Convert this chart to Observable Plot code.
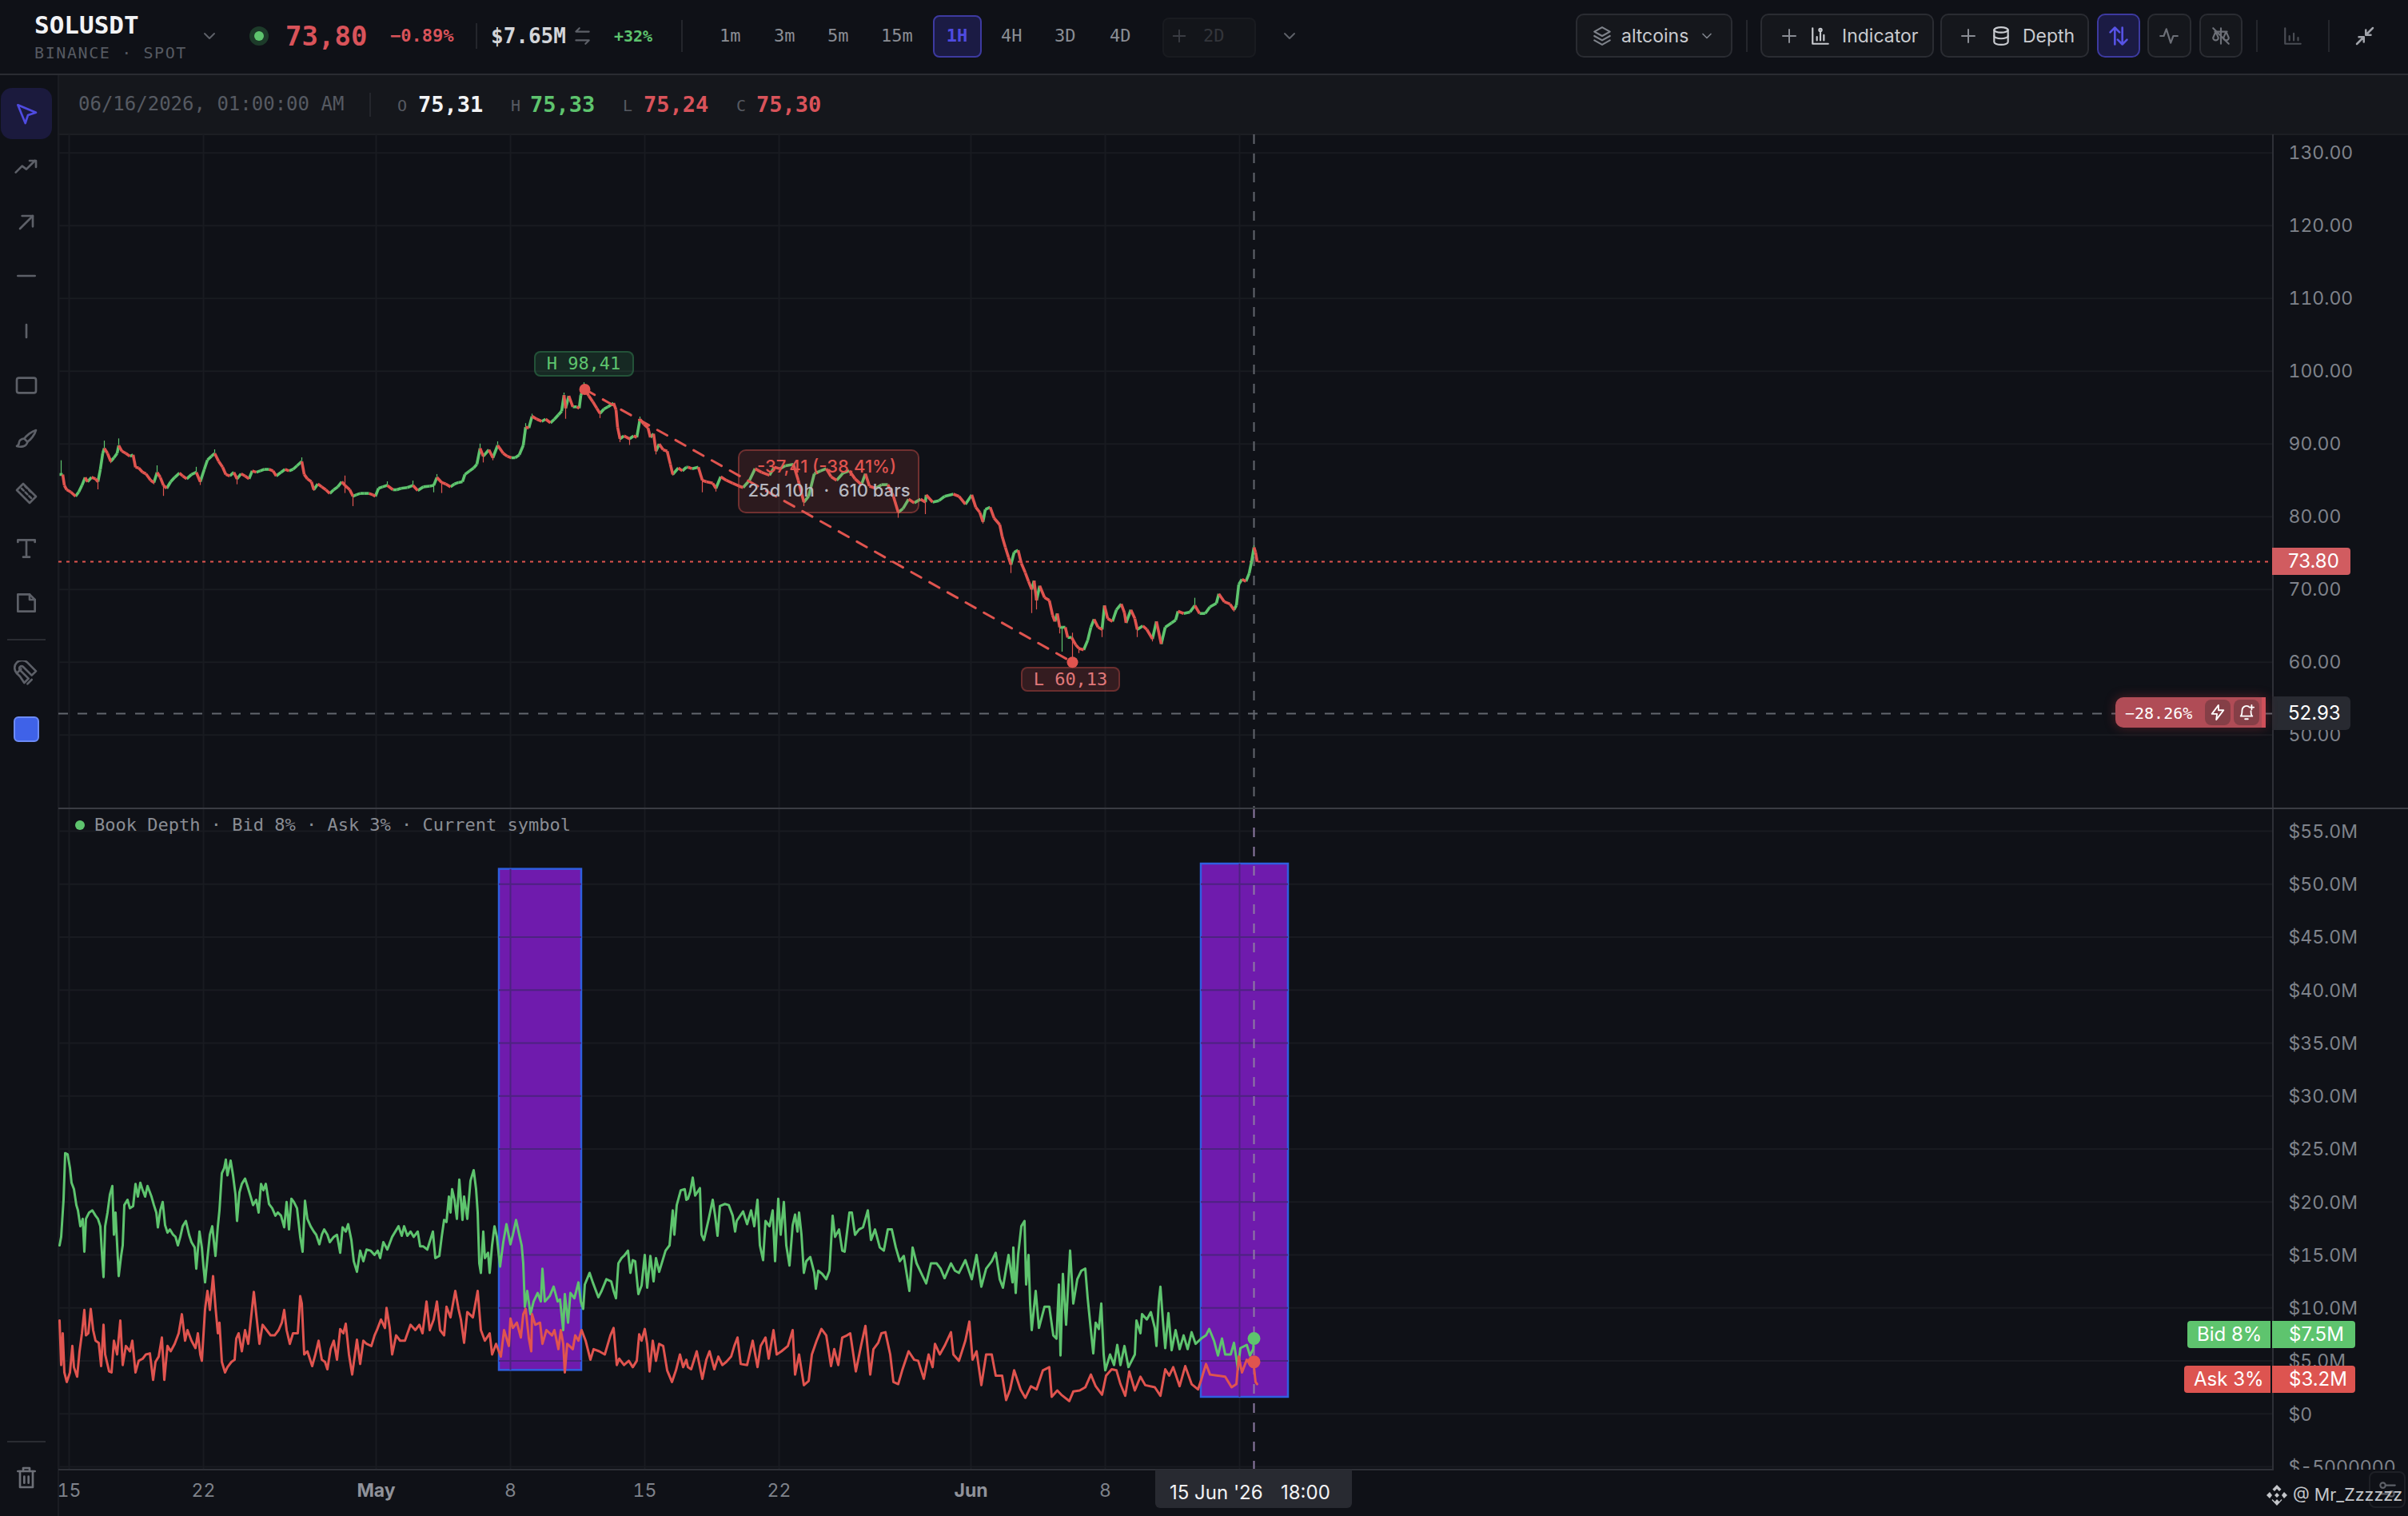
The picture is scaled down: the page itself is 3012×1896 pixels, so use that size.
<!DOCTYPE html>
<html><head><meta charset="utf-8">
<script src="https://cdn.jsdelivr.net/npm/d3@7"></script>
<script src="https://cdn.jsdelivr.net/npm/@observablehq/plot@0.6"></script>
<style>
html,body{margin:0;padding:0;background:#0f1117;width:3012px;height:1896px;overflow:hidden;font-family:Inter,sans-serif}
#root{position:relative;width:3012px;height:1896px;overflow:hidden}
.a{position:absolute;box-sizing:border-box;white-space:pre}
.t{position:absolute;white-space:pre;transform:translateY(-50%);line-height:1}
.m{font-family:"DejaVu Sans Mono",monospace}
svg.plot{position:absolute}
</style></head><body><div id="root"></div>
<script>
// ---- price candles: hour offset from 15 Apr 2026 00:00, close price
const candleHour=[-12,-8,-6,-3,2,8,12,16,20,23,28,33,36,39,42,44,48,52,56,60,62,66,71,76,80,83,87,92,96,102,106,110,114,118,122,127,132,138,142,147,153,159,164,169,173,178,182,187,192,196,201,206,210,215,220,225,229,234,239,244,250,255,259,265,270,275,280,285,291,294,298,303,306,311,316,321,326,331,336,341,345,351,355,359,364,369,375,380,383,387,392,398,405,410,415,423,430,436,443,451,456,460,466,471,477,482,487,492,495,501,506,510,514,518,525,530,536,543,548,553,558,563,568,571,575,579,585,591,596,602,607,612,616,619,621,625,630,635,638,640,644,650,655,660,664,669,674,681,684,686,689,694,701,706,710,714,719,724,727,731,734,738,743,748,752,755,762,767,772,774,779,787,792,797,805,809,815,822,830,838,843,851,858,866,876,882,889,896,906,912,919,925,932,940,947,953,960,968,976,983,991,996,1001,1009,1016,1024,1031,1037,1043,1050,1057,1065,1071,1072,1080,1088,1095,1106,1113,1121,1129,1134,1139,1143,1146,1152,1157,1164,1167,1171,1175,1178,1182,1187,1191,1196,1200,1204,1207,1210,1214,1220,1226,1230,1233,1236,1239,1242,1246,1249,1254,1259,1263,1269,1274,1278,1282,1287,1292,1295,1299,1305,1310,1316,1320,1322,1328,1333,1336,1343,1348,1355,1360,1366,1371,1379,1384,1387,1394,1402,1408,1414,1421,1427,1435,1438,1445,1452,1457,1460,1463,1467,1472,1476,1479,1482,1484,1486];
const candleClose=[85.8,85.8,84.3,83.7,83.4,82.8,83.4,84.3,85.4,84.8,85.4,85.2,84.8,86.5,88.7,89.4,88.7,87.6,88.1,88.7,89.8,89.0,88.7,88.3,88.5,86.8,86.7,86.1,85.9,85.0,84.7,86.1,85.4,84.3,83.9,84.8,85.4,86.0,85.6,85.2,85.8,86.1,84.8,86.5,87.8,88.3,88.7,87.6,86.8,85.8,85.6,86.1,85.2,85.9,85.6,85.2,86.3,86.1,86.3,86.5,86.5,86.3,85.6,86.1,86.5,86.3,86.5,87.0,87.6,85.8,85.2,84.8,83.7,84.5,84.1,83.7,83.2,83.7,84.1,84.8,84.3,83.7,82.8,83.0,83.2,83.2,83.2,83.0,82.8,83.9,84.1,84.3,83.7,83.7,83.9,84.0,84.3,83.6,84.1,84.2,84.3,85.4,84.7,84.5,84.1,84.5,84.7,84.8,85.8,86.3,86.7,87.2,89.4,88.3,89.2,88.1,89.8,88.7,88.3,88.1,88.1,88.5,89.8,92.3,92.2,93.8,93.4,93.1,93.4,92.9,93.4,94.0,94.5,96.7,94.9,96.6,95.1,95.1,94.9,96.7,97.7,96.6,95.8,94.9,94.2,94.8,95.1,95.6,94.7,92.3,90.7,91.1,90.7,91.1,90.9,93.4,92.7,92.2,90.9,91.4,89.0,90.0,89.2,89.0,87.2,85.8,86.7,86.3,86.8,86.8,86.6,86.8,85.0,84.8,84.6,83.9,85.5,85.0,84.6,84.2,84.0,85.0,86.6,86.1,85.7,86.8,86.6,87.0,87.2,85.0,82.0,82.8,85.9,86.3,86.6,85.5,85.0,86.0,86.3,85.2,84.4,85.9,84.2,83.9,84.4,84.4,82.8,80.6,81.1,82.4,81.9,82.4,82.0,83.0,82.0,82.2,82.8,83.1,82.8,81.7,83.0,81.3,80.6,79.3,81.0,81.3,79.8,78.9,77.3,75.8,74.4,73.4,75.1,75.4,73.6,72.3,71.1,70.0,71.2,68.5,70.5,68.9,68.5,66.5,65.6,66.7,64.8,64.8,64.8,63.4,63.4,62.4,61.9,61.7,63.0,64.8,65.9,64.8,64.5,67.8,66.0,65.6,67.2,68.0,66.8,65.4,67.2,66.0,64.5,65.0,64.5,63.2,65.6,62.5,64.8,65.4,65.8,67.0,66.7,66.9,67.8,66.7,66.7,67.6,68.1,69.4,68.3,68.0,67.2,67.8,70.7,71.4,71.1,72.2,73.8,75.8,75.1,73.8];
// ---- notable wicks
const wickHour=[-10,36,44,52,62,106,110,118,159,164,182,210,291,306,345,355,398,430,456,460,466,514,518,530,536,571,579,619,621,644,664,689,701,714,734,755,792,809,919,1037,1071,1143,1178,1204,1210,1239,1242,1255,1263,1292,1336,1355,1408,1457,1482];
const wickHigh=[87.7,84.8,90.4,87.6,90.7,84.7,87.0,84.3,86.8,84.8,89.2,85.2,88.1,83.7,85.6,82.8,84.8,84.9,84.3,85.8,84.7,90.0,88.3,88.1,90.3,92.8,94.1,97.0,94.9,98.41,94.2,90.7,90.7,93.7,89.0,85.8,85.0,83.9,82.0,80.6,82.0,79.3,73.4,70.0,68.5,64.8,64.8,64.0,61.9,64.5,64.5,63.2,68.8,67.2,76.0];
const wickLow=[85.8,83.7,89.4,87.3,89.8,84.4,86.1,82.8,86.1,84.3,88.7,84.4,87.6,83.5,83.2,81.4,84.3,84.3,83.3,85.4,83.2,89.4,87.4,87.7,89.8,92.3,93.8,96.7,93.4,97.7,93.5,90.2,89.8,93.4,88.5,85.6,83.3,83.4,81.4,79.8,80.3,79.0,72.2,66.7,67.2,63.9,61.4,60.13,61.2,63.4,63.4,62.8,67.8,66.9,75.8];
// ---- book depth, $M
const bidHour=[-12,-10,-7,-5,-2,1,3,6,9,11,14,17,19,21,25,29,33,36,39,41,43,45,48,51,54,56,58,62,65,67,69,73,76,80,83,86,89,92,95,98,103,106,109,111,114,117,120,123,126,130,133,136,139,142,146,150,153,157,159,163,166,168,170,173,176,179,183,186,188,191,194,196,198,202,205,208,210,213,216,220,223,227,230,234,237,240,243,246,250,254,258,261,265,269,272,275,278,281,285,289,292,295,298,302,306,309,313,316,319,323,326,331,335,339,342,346,349,353,356,360,364,368,372,377,382,386,389,393,398,404,412,416,419,423,427,431,436,439,443,448,455,458,463,466,469,472,475,477,479,482,485,488,492,494,498,502,506,509,511,513,515,518,520,524,526,529,532,535,539,543,547,552,555,559,563,566,568,570,573,577,581,586,590,592,595,601,606,611,614,618,620,624,627,632,637,640,643,645,651,655,659,662,666,672,678,681,684,687,691,694,699,702,705,708,712,716,720,723,727,731,734,738,742,746,751,755,757,760,765,770,772,774,777,780,783,789,791,794,800,805,808,811,814,820,825,830,833,835,843,848,853,857,861,864,868,871,876,880,883,887,890,894,897,901,905,908,911,913,916,919,922,927,932,934,937,942,947,951,955,958,963,967,970,976,979,983,988,993,999,1003,1008,1014,1019,1024,1029,1034,1039,1044,1051,1055,1060,1065,1072,1078,1085,1090,1095,1103,1108,1113,1121,1129,1135,1141,1147,1154,1159,1164,1168,1175,1180,1181,1184,1187,1191,1195,1197,1200,1202,1204,1209,1213,1220,1226,1231,1235,1238,1240,1243,1247,1252,1256,1261,1266,1271,1274,1278,1281,1284,1288,1291,1294,1296,1302,1307,1311,1315,1320,1325,1333,1335,1340,1342,1348,1353,1358,1360,1363,1365,1368,1371,1375,1379,1384,1389,1394,1399,1404,1409,1416,1422,1426,1432,1437,1442,1446,1453,1457,1462,1465,1473,1477,1481,1482];
const bidValue=[15.9,16.7,20.2,24.6,24.5,23.2,21.8,21.2,19.7,19.2,17.7,18.4,15.3,18.4,19.0,19.2,18.7,18.4,17.7,15.2,12.9,17.7,19.0,20.7,21.5,16.9,19.0,13.0,14.9,15.9,19.7,20.2,19.4,19.6,21.7,20.5,21.8,21.1,20.5,21.5,20.5,19.7,19.0,17.6,19.2,20.0,17.8,17.1,17.4,16.9,16.7,15.9,16.7,17.7,18.2,16.9,16.2,15.7,13.7,17.2,15.7,13.9,12.4,14.7,16.9,17.7,14.9,17.7,19.2,22.7,23.2,24.0,22.5,23.9,22.5,20.7,18.2,20.9,21.7,22.2,21.5,20.5,19.7,20.2,19.0,21.7,21.1,21.7,19.8,19.4,18.7,19.0,18.7,17.6,20.0,17.4,20.3,20.0,19.4,16.7,15.3,20.1,18.4,17.7,17.2,16.9,16.0,16.9,17.4,16.9,16.2,16.7,16.9,15.2,17.6,17.2,17.9,16.4,14.4,13.4,15.4,14.4,15.5,15.4,15.0,15.4,14.7,16.2,15.5,16.7,17.7,16.8,17.7,16.8,17.2,16.7,17.2,15.8,15.8,15.5,17.2,14.7,14.9,16.7,18.3,18.1,20.5,19.0,21.2,20.2,18.4,22.1,18.3,20.5,18.4,22.0,23.0,21.2,19.0,14.2,13.3,17.2,14.7,15.2,13.3,15.9,17.7,16.7,13.9,16.2,17.9,16.0,16.9,18.3,16.9,15.9,14.2,10.1,11.6,9.4,10.6,11.4,10.6,13.7,10.6,11.1,12.0,10.6,10.8,7.9,11.3,8.6,11.4,10.9,12.4,10.6,9.9,12.2,13.3,12.4,11.6,11.0,11.6,12.7,12.5,11.6,10.9,14.2,14.7,14.9,15.4,13.3,14.5,14.4,11.3,12.1,15.0,11.9,14.9,12.5,14.7,13.4,14.4,15.4,15.9,19.2,16.9,19.7,21.1,21.2,20.2,20.3,21.0,22.3,20.6,21.3,16.9,16.4,18.4,20.2,18.7,16.8,19.6,19.8,19.7,18.7,17.2,18.2,19.1,17.9,19.2,17.7,20.2,15.9,14.5,18.2,17.7,19.2,14.4,20.3,16.9,20.0,15.9,14.0,17.8,18.8,17.2,19.0,16.9,13.3,14.4,14.8,13.3,11.8,13.5,13.2,12.7,13.5,18.7,16.7,17.4,15.4,15.3,19.0,19.0,16.9,17.4,17.6,19.2,16.4,17.4,15.7,15.4,17.4,17.4,15.7,14.4,14.9,11.6,15.7,14.2,13.4,12.3,14.2,14.2,13.7,12.8,14.2,13.5,13.3,14.5,12.7,15.0,12.0,13.7,14.4,15.2,12.7,11.9,15.0,12.4,15.7,11.4,15.0,17.7,18.2,12.2,15.0,10.4,7.9,11.6,8.1,10.1,10.1,7.4,7.1,12.2,5.5,13.2,8.4,15.4,10.4,12.7,13.5,13.7,10.9,7.9,5.7,8.6,8.0,10.4,5.6,4.1,5.6,4.6,6.5,4.6,6.4,4.4,5.6,8.8,7.6,9.4,8.9,9.6,8.1,6.4,10.6,12.0,8.9,6.2,9.5,6.0,7.9,6.1,7.4,6.1,7.7,6.6,7.1,7.4,8.0,6.9,5.5,7.1,5.6,5.6,6.7,4.2,6.2,6.5,5.5,6.1,7.1];
const askHour=[-12,-10,-8,-6,-3,1,4,6,10,13,16,19,21,24,27,30,33,37,40,43,45,50,53,56,60,64,67,71,76,79,83,87,92,96,101,105,108,112,116,119,123,127,132,137,141,145,148,153,158,161,164,166,170,173,176,180,183,186,188,191,195,198,203,207,209,212,216,220,224,228,231,234,238,242,247,252,257,262,266,269,272,276,280,286,289,291,294,298,304,308,312,316,320,323,327,331,335,339,343,346,350,354,358,360,364,368,372,378,382,385,390,395,397,401,404,409,414,420,427,433,438,442,447,451,456,460,464,469,472,477,483,487,490,494,498,505,511,515,520,526,529,534,540,544,550,552,555,560,565,568,571,575,578,579,583,589,592,597,604,607,612,615,618,620,623,630,633,637,641,646,652,656,663,670,677,681,685,688,694,700,705,710,713,716,720,723,726,730,734,738,743,748,754,759,764,768,772,774,778,785,792,797,801,807,812,817,822,828,832,836,840,848,855,861,865,871,875,881,885,891,899,905,908,913,919,925,929,935,941,947,953,957,962,967,973,977,984,991,996,1002,1006,1012,1016,1021,1027,1031,1037,1042,1050,1057,1062,1069,1075,1080,1083,1089,1095,1103,1106,1113,1121,1126,1130,1135,1141,1147,1154,1159,1167,1172,1177,1182,1190,1196,1203,1210,1218,1226,1229,1236,1241,1251,1256,1264,1271,1278,1284,1292,1297,1304,1310,1315,1321,1326,1333,1340,1346,1358,1365,1371,1376,1381,1389,1396,1404,1412,1416,1422,1427,1437,1446,1454,1460,1463,1467,1473,1479,1482,1484,1486];
const askValue=[8.8,4.6,7.6,3.9,3.0,3.9,6.4,4.4,3.5,5.9,7.6,9.8,7.4,7.6,9.9,7.9,6.9,6.7,4.5,8.4,5.6,4.0,3.9,6.9,5.6,8.8,4.6,6.4,5.9,6.9,3.9,5.0,5.2,5.6,5.7,3.2,4.9,5.4,7.2,3.2,6.4,5.9,6.6,7.6,9.4,6.9,7.9,6.9,6.2,7.6,5.6,5.0,9.9,11.6,9.8,13.0,10.1,7.6,8.6,4.9,3.9,4.4,4.9,5.1,7.1,7.6,5.9,7.9,6.6,9.4,11.5,9.4,6.6,8.4,7.9,7.4,7.4,7.9,8.6,9.8,7.9,6.6,7.6,7.6,11.1,10.4,5.6,5.9,4.5,5.6,6.9,5.1,4.9,4.2,6.1,6.9,5.1,8.0,7.6,8.5,5.6,3.7,5.9,7.0,4.7,6.9,6.6,6.4,7.4,7.9,8.9,8.1,10.0,8.1,5.6,7.4,6.9,6.9,8.4,7.9,8.4,7.6,10.6,7.9,8.9,10.6,7.9,7.4,10.1,9.1,11.6,9.9,8.9,6.7,9.6,9.1,11.6,7.9,6.9,7.6,5.6,6.6,5.4,7.9,6.4,9.0,8.1,8.6,7.2,9.4,9.9,7.1,5.9,9.4,8.4,8.6,6.6,7.9,7.4,7.9,6.1,7.9,6.6,3.9,6.6,6.1,7.4,6.9,7.9,6.9,5.1,6.1,5.9,5.6,7.4,8.1,4.6,5.2,4.6,5.0,4.4,5.0,7.5,6.9,8.0,6.6,4.0,6.9,5.0,6.6,6.4,4.1,3.0,4.1,5.6,4.4,5.1,4.4,4.2,5.9,3.3,5.1,5.9,4.2,5.4,4.6,4.9,5.4,6.4,7.2,4.7,4.6,6.9,4.4,6.4,7.2,5.2,7.9,5.6,5.9,6.4,7.9,3.7,5.6,2.7,3.1,5.6,6.9,8.0,7.4,4.5,6.1,4.6,7.2,7.4,7.6,4.0,6.6,8.3,3.7,6.1,6.7,7.6,7.7,5.6,3.0,2.8,4.1,5.9,5.1,5.0,3.3,5.6,4.4,6.6,5.6,6.4,7.7,5.6,5.0,6.9,8.7,5.1,5.9,2.7,5.6,5.6,3.6,3.6,1.3,2.3,4.1,2.3,1.5,2.6,2.3,4.1,4.4,1.6,2.2,1.8,1.2,2.1,2.2,2.5,3.7,2.6,1.8,3.6,4.2,4.1,2.8,1.7,4.0,2.2,3.5,2.7,2.5,1.7,4.2,3.6,4.4,2.6,4.5,2.8,2.3,3.2,4.7,3.7,3.6,3.5,2.5,2.8,5.4,3.9,5.1,4.5,4.4,3.0,2.8];
// ---- ticks and annotations
const priceTicks=[130,120,110,100,90,80,70,60,50];
const depthTicks=[55,50,45,40,35,30,25,20,15,10,5,0,-5];
const dayTicks=["2026-04-15","2026-04-22","2026-05-08","2026-05-15","2026-05-22","2026-06-08"];
const monthTicks=["2026-05-01","2026-06-01"];
const coveredTick="2026-06-15";
const lastPrice=73.80, crossPrice=52.93, crossHour=1482;
const swingHour=[645,1255], swingPrice=[97.5,60.0];
const zoneHourStart=[538,1416], zoneHourEnd=[641,1525], zoneTop=[51.4,51.9], zoneBottom=[4.1,1.56];
const depthMarkerValue=[7.1,4.9];

const C={bg:"#0f1117",grid:"#191b21",axis:"#2e3037",txt:"#7f838b",up:"#5ec46e",dn:"#e0544f",cross:"#63666e",zoneGrid:"#4c2380"};
const toDate=h=>new Date(Date.UTC(2026,3,15)+h*36e5);
const xDomain=[toDate(-13),toDate(2757)];
const W=2939,FR=169;
const candles=candleHour.slice(1).map((h,i)=>({x1:toDate(candleHour[i]),x2:toDate(h),open:candleClose[i],close:candleClose[i+1]}));
const wicks=wickHour.map((h,i)=>{const j=Math.max(0,d3.bisectLeft(candleHour,h));return {x:toDate(h),hi:wickHigh[i],lo:wickLow[i],up:j>0&&candleClose[j]>=candleClose[j-1]}});
const common={width:W,marginLeft:0,marginRight:FR,marginTop:0,marginBottom:0,
  style:{background:"transparent",fontFamily:"Inter, sans-serif",fontSize:"23px",color:C.txt,overflow:"hidden"}};
const xScale={type:"utc",domain:xDomain,range:[0,W-FR],axis:null};
const vGrid=[...dayTicks,...monthTicks,coveredTick].map(d=>new Date(d));
const line=(xs,ys,o)=>Plot.line(xs.map((h,i)=>({x:toDate(h),y:ys[i]})),{x:"x",y:"y",...o});
const candleSeg=(rows,c)=>Plot.link(rows,{x1:"x1",x2:"x2",y1:"open",y2:"close",stroke:c,strokeWidth:3.6,strokeLinecap:"butt"});

const pricePlot=Plot.plot({...common,x:xScale,height:843,y:{domain:[39.86,132.49],range:[843,0],axis:null},marks:[
  Plot.ruleY(priceTicks,{stroke:C.grid,strokeWidth:2}),
  Plot.ruleX(vGrid,{stroke:C.grid,strokeWidth:2}),
  Plot.ruleX([xDomain[0]],{stroke:C.grid,strokeWidth:2}),
  Plot.ruleY([lastPrice],{x1:xDomain[0],x2:xDomain[1],stroke:C.dn,strokeWidth:2,strokeDasharray:"4 6"}),
  Plot.ruleY([crossPrice],{stroke:C.cross,strokeWidth:2,strokeDasharray:"12 12"}),
  Plot.ruleX([toDate(crossHour)],{stroke:C.cross,strokeWidth:2,strokeDasharray:"12 12"}),
  Plot.ruleX(wicks.filter(d=>d.up),{x:"x",y1:"lo",y2:"hi",stroke:C.up,strokeWidth:1.2}),
  Plot.ruleX(wicks.filter(d=>!d.up),{x:"x",y1:"lo",y2:"hi",stroke:C.dn,strokeWidth:1.2}),
  candleSeg(candles.filter(d=>d.close>=d.open),C.up),
  candleSeg(candles.filter(d=>d.close<d.open),C.dn),
  line(swingHour,swingPrice,{stroke:C.dn,strokeWidth:3,strokeDasharray:"14 12"}),
  Plot.dot(swingHour.map((h,i)=>({x:toDate(h),y:swingPrice[i]})),{x:"x",y:"y",r:7,fill:C.dn}),
  Plot.axisY(priceTicks,{anchor:"right",tickSize:0,tickPadding:19,label:null,fill:C.txt,tickFormat:d=>d.toFixed(2)})
]});

const zones=zoneHourStart.map((h,i)=>({x1:toDate(h),x2:toDate(zoneHourEnd[i]),y1:zoneBottom[i],y2:zoneTop[i]}));
const dm=(v)=>v===0?"$0":v<0?"$"+(v*1e6):"$"+v.toFixed(1)+"M";
const depthPlot=Plot.plot({...common,x:xScale,height:827,y:{domain:[-5.31,57.11],range:[827,0],axis:null},marks:[
  Plot.ruleY(depthTicks,{stroke:C.grid,strokeWidth:2}),
  Plot.ruleX(vGrid,{stroke:C.grid,strokeWidth:2}),
  Plot.ruleX([xDomain[0]],{stroke:C.grid,strokeWidth:2}),
  Plot.rect(zones,{x1:"x1",x2:"x2",y1:"y1",y2:"y2",fill:"#6f1bad",stroke:"#2f5fe0",strokeWidth:2.5}),
  Plot.ruleY(depthTicks.filter(d=>d>4.1&&d<51.4),{x1:toDate(zoneHourStart[0]),x2:toDate(zoneHourEnd[0]),stroke:C.zoneGrid,strokeWidth:2}),
  Plot.ruleY(depthTicks.filter(d=>d>1.56&&d<51.9),{x1:toDate(zoneHourStart[1]),x2:toDate(zoneHourEnd[1]),stroke:C.zoneGrid,strokeWidth:2}),
  Plot.ruleX([new Date("2026-05-08"),new Date(coveredTick)],{y1:(d,i)=>zoneBottom[i],y2:(d,i)=>zoneTop[i],stroke:C.zoneGrid,strokeWidth:2}),
  Plot.ruleX([toDate(crossHour)],{stroke:"#8d7ba3",strokeWidth:2,strokeDasharray:"12 12"}),
  line(bidHour,bidValue,{stroke:C.up,strokeWidth:3,strokeLinejoin:"round"}),
  line(askHour,askValue,{stroke:C.dn,strokeWidth:3,strokeLinejoin:"round"}),
  Plot.dot([{x:toDate(crossHour),y:depthMarkerValue[0]}],{x:"x",y:"y",r:8,fill:C.up}),
  Plot.dot([{x:toDate(crossHour),y:depthMarkerValue[1]}],{x:"x",y:"y",r:8,fill:C.dn}),
  Plot.axisY(depthTicks,{anchor:"right",tickSize:0,tickPadding:19,label:null,fill:C.txt,dy:1,tickFormat:dm})
]});

const timePlot=Plot.plot({...common,x:{...xScale,axis:undefined},height:58,marginBottom:58,y:{axis:null,domain:[0,1]},marks:[
  Plot.axisX(dayTicks.map(d=>new Date(d)),{anchor:"bottom",tickSize:0,tickPadding:17,label:null,fill:C.txt,tickFormat:d=>String(d.getUTCDate())}),
  Plot.axisX(monthTicks.map(d=>new Date(d)),{anchor:"bottom",tickSize:0,tickPadding:17,label:null,fill:"#8f929a",fontWeight:700,tickFormat:d=>d3.utcFormat("%b")(d)})
]});

// ---- page chrome
const root=document.getElementById("root");
const add=h=>root.insertAdjacentHTML("beforeend",h);
const box=(x,y,w,h,s="")=>add(`<div class="a" style="left:${x}px;top:${y}px;width:${w}px;height:${h}px;${s}"></div>`);
const txt=(x,y,str,s="",mono=false)=>add(`<div class="t${mono?" m":""}" style="left:${x}px;top:${y}px;${s}">${str}</div>`);
const ctr=(x,y,str,s="",mono=false)=>add(`<div class="t${mono?" m":""}" style="left:${x}px;top:${y}px;transform:translate(-50%,-50%);${s}">${str}</div>`);
const icon=(cx,cy,size,inner,stroke="#5d6068",sw=2,s="")=>add(`<svg class="a" style="left:${cx-size/2}px;top:${cy-size/2}px;${s}" width="${size}" height="${size}" viewBox="0 0 24 24" fill="none" stroke="${stroke}" stroke-width="${sw}" stroke-linecap="round" stroke-linejoin="round">${inner}</svg>`);
const I={chev:'<path d="M6 9l6 6 6-6"/>',arrow:'<path d="M4 4l7 17 2.5-7.5L21 11z"/>',trend:'<path d="M2 17l6-6 4 3 8-8"/><path d="M15 6h6v6"/>',ar:'<path d="M6 18L18 6"/><path d="M8 6h10v10"/>',hl:'<path d="M4 12h16"/>',vl:'<path d="M12 6v12"/>',rect:'<rect x="3" y="5" width="18" height="14" rx="2"/>',brush:'<path d="M21 3c-4 1-9 5-11 8l3 3c3-2 7-7 8-11z"/><path d="M10 11c-3 0-5 2-5 4 0 1.500-1 2.500-2 3 3 1 9 1 10-4"/>',ruler:'<path d="M3 9l6-6 12 12-6 6z"/><path d="M7.500 7.500l2 2M11 5.500l1.500 1.500M11 11l2 2M14.500 9l1.500 1.500M14.500 14.500l2 2"/>',text:'<path d="M4 6V4h16v2"/><path d="M12 4v16"/><path d="M9 20h6"/>',note:'<path d="M4 4h11l5 5v11H4z"/><path d="M15 4v5h5"/>',magnet:'<path d="M6 15L3 12a7 7 0 0 1 10-10l8 8-4 4-8-8a2 2 0 0 0-3 3l8 8-4 4z"/><path d="M3 12l4-4M13 22l4-4"/>',trash:'<path d="M4 6h16"/><path d="M9 6V3h6v3"/><path d="M6 6v15h12V6"/><path d="M10 11v6M14 11v6"/>',layers:'<path d="M12 2l9 5-9 5-9-5z"/><path d="M3 12l9 5 9-5"/><path d="M3 17l9 5 9-5"/>',plus:'<path d="M12 4v16M4 12h16"/>',chart:'<path d="M3 3v18h18"/><path d="M8 17v-4M12 17V8M16 17v-6"/><circle cx="12" cy="5" r="1.500"/>',db:'<ellipse cx="12" cy="5" rx="8" ry="3"/><path d="M4 5v14c0 1.700 3.600 3 8 3s8-1.300 8-3V5"/><path d="M4 12c0 1.700 3.600 3 8 3s8-1.300 8-3"/>',ud:'<path d="M8 21V3M3 8l5-5 5 5"/><path d="M16 3v18M11 16l5 5 5-5"/>',wave:'<path d="M2 12h4l3-8 5 16 3-8h5"/>',scale:'<path d="M12 3v18M5 7h14M3 14l3-7 3 7a3 3 0 0 1-6 0zM15 14l3-7 3 7a3 3 0 0 1-6 0z"/><path d="M3 3l18 18"/>',bars:'<path d="M3 3v18h18"/><path d="M8 17v-5M13 17V9M18 17v-3"/>',shrink:'<path d="M4 20l7-7M6 13h5v5"/><path d="M20 4l-7 7M18 11h-5V6"/>',swap:'<path d="M20 7H5l4-4M5 17h15l-4 4"/>',bolt:'<path d="M13 2L4 14h7l-1 8 10-13h-7z"/>',bell:'<path d="M6 9a6 6 0 0 1 9-5M18 10c0 6 2 7 2 7H4s2-1 2-8"/><path d="M10 21h4"/><path d="M19 2v6M16 5h6"/>',knob:'<circle cx="7" cy="7" r="3"/><path d="M10 7h11"/><circle cx="17" cy="17" r="3"/><path d="M3 17h11"/>'};

// bars
box(0,92,3012,2,"background:#2a2c32");
box(0,94,3012,74,"background:#15171c");
box(0,94,72,1802,"background:#0f1117");
box(72,94,2,1802,"background:#1a1c22");
box(72,167,2940,2,"background:#1c1e23");
// panels
[[pricePlot,168],[depthPlot,1011],[timePlot,1838]].forEach(([p,top])=>{p.style.position="absolute";p.style.left="73px";p.style.top=top+"px";p.style.maxWidth="none";root.appendChild(p)});
box(2842,168,2,1670,"background:#2e3037");
box(73,1837,2771,2,"background:#2e3037");
box(73,1010,2939,2,"background:#3a3c43");

// top bar
txt(43,31,"SOLUSDT","font-size:31px;font-weight:700;color:#f2f3f5",true);
txt(43,66,"BINANCE · SPOT","font-size:20px;letter-spacing:1.6px;color:#565a62",true);
icon(262,45,24,I.chev,"#5d6068");
box(312,33,24,24,"border-radius:50%;background:#1d3b2a");box(318,39,12,12,"border-radius:50%;background:#5ec46e");
txt(357,45,"73,80","font-size:34px;font-weight:700;color:#d9535a",true);
txt(488,45,"−0.89%","font-size:22px;font-weight:700;color:#d9535a",true);
box(595,29,2,32,"background:#24262c");
txt(614,45,"$7.65M","font-size:26px;font-weight:700;color:#d3d5d9",true);
icon(728,45,26,I.swap,"#5d6068");
txt(768,45,"+32%","font-size:20px;font-weight:700;color:#5ec46e",true);
box(852,25,2,40,"background:#24262c");
[["1m",900],["3m",968],["5m",1035],["15m",1102]].forEach(([s,x])=>txt(x,45,s,"font-size:22px;color:#8a8d94",true));
box(1167,19,61,53,"background:#1b1b44;border:2px solid #3d3aa0;border-radius:8px");
ctr(1197,45,"1H","font-size:22px;font-weight:700;color:#4f4be0",true);
[["4H",1252],["3D",1319],["4D",1388]].forEach(([s,x])=>txt(x,45,s,"font-size:22px;color:#8a8d94",true));
box(1454,22,117,50,"background:#13151a;border:2px solid #191b20;border-radius:8px");
icon(1475,45,22,I.plus,"#3a3c43");txt(1505,45,"2D","font-size:22px;color:#33353b",true);
icon(1613,45,24,I.chev,"#5d6068");
const btn=(x,w,s="background:#15171c;border:2px solid #2a2c32")=>box(x,17,w,55,"border-radius:10px;"+s);
btn(1971,196);icon(2004,45,26,I.layers,"#7f838b");txt(2028,45,"altcoins","font-size:23px;color:#c9cbd0");icon(2135,45,20,I.chev,"#7f838b");
box(2184,25,2,40,"background:#24262c");
btn(2202,217);icon(2238,45,24,I.plus,"#8a8d94");icon(2277,45,26,I.chart,"#c9cbd0");txt(2304,45,"Indicator","font-size:23px;color:#c9cbd0");
btn(2427,186);icon(2462,45,24,I.plus,"#8a8d94");icon(2503,45,26,I.db,"#c9cbd0");txt(2530,45,"Depth","font-size:23px;color:#c9cbd0");
btn(2623,54,"background:#1b1b44;border:2px solid #3d3aa0");icon(2650,45,28,I.ud,"#5753e6",2.2);
btn(2686,55);icon(2713,45,26,I.wave,"#6c6f77");
btn(2751,54);icon(2778,45,26,I.scale,"#6c6f77");
box(2822,25,2,40,"background:#24262c");icon(2868,45,26,I.bars,"#4a4d54");
box(2912,25,2,40,"background:#24262c");icon(2958,45,30,I.shrink,"#a0a3aa");

// ohlc bar
txt(98,130,"06/16/2026, 01:00:00 AM","font-size:24px;color:#565a62",true);
box(462,116,2,30,"background:#24262c");
const o=(x1,l,x2,v,c)=>{txt(x1,132,l,"font-size:20px;color:#565a62",true);txt(x2,130,v,`font-size:27px;font-weight:700;color:${c}`,true)};
o(497,"O",523,"75,31","#f2f3f5");o(639,"H",663,"75,33","#5ec46e");o(779,"L",805,"75,24","#d9535a");o(921,"C",946,"75,30","#d9535a");

// rail
box(1,110,64,64,"background:#1b1a3d;border-radius:14px");
const rail=[["arrow",142,"#4f4be0"],["trend",209],["ar",278],["hl",345],["vl",414],["rect",482],["brush",550],["ruler",617],["text",686],["note",754],["magnet",842]];
rail.forEach(([k,y,c])=>icon(33,y,32,I[k],c||"#5d6068"));
box(9,799,48,2,"background:#2a2c32");
box(17,896,32,32,"background:#3f62e8;border-radius:6px;border:2px solid #6d8bf5");
box(9,1802,48,2,"background:#2a2c32");
icon(33,1848,32,I.trash,"#6c6f77");

// chart labels
box(668,439,125,32,"background:rgba(70,190,110,.14);border:2px solid rgba(70,190,110,.28);border-radius:8px");
ctr(730,455,"H 98,41","font-size:22px;color:#5ec46e",true);
box(1277,834,124,31,"background:rgba(224,84,79,.18);border:2px solid rgba(224,84,79,.32);border-radius:8px");
ctr(1339,850,"L 60,13","font-size:22px;color:#e0787a",true);
box(923,562,227,80,"background:rgba(224,84,79,.14);border:2px solid rgba(224,84,79,.38);border-radius:10px");
ctr(1034,583,"-37,41 (-38,41%)","font-size:22px;font-weight:500;color:#e0544f");
ctr(1037,613,"25d 10h  ·  610 bars","font-size:22px;font-weight:500;color:#b6b8c0");
// axis tags
box(2842,685,98,34,"background:#d15c60;border-radius:0 4px 4px 0");txt(2862,702,"73.80","font-size:24px;color:#fff");
box(2842,871,98,42,"background:#282a31;border-radius:0 6px 6px 0");txt(2862,892,"52.93","font-size:24px;color:#fff");
box(2646,872,188,38,"background:#b04c56;border-radius:10px 0 0 10px;box-shadow:0 0 14px rgba(200,60,70,.35)");
box(2829,872,5,38,"background:#d0505a");
txt(2658,892,"−28.26%","font-size:20px;font-weight:500;color:#fff",true);
box(2758,875,32,32,"background:#853f47;border-radius:8px");box(2794,875,32,32,"background:#853f47;border-radius:8px");
icon(2774,891,22,I.bolt,"#fff");icon(2810,891,22,I.bell,"#fff");
// depth legend + tags
box(94,1026,12,12,"border-radius:50%;background:#5ec46e");
txt(118,1032,"Book Depth · Bid 8% · Ask 3% · Current symbol","font-size:22px;color:#8a8d94",true);
box(2736,1652,104,34,"background:#5ec46e;border-radius:4px 0 0 4px");txt(2748,1669,"Bid 8%","font-size:24px;color:#fff");
box(2842,1652,104,34,"background:#5ec46e;border-radius:0 4px 4px 0");txt(2863,1669,"$7.5M","font-size:24px;color:#fff");
box(2732,1708,108,34,"background:#dd5450;border-radius:4px 0 0 4px");txt(2744,1725,"Ask 3%","font-size:24px;color:#fff");
box(2842,1708,104,34,"background:#dd5450;border-radius:0 4px 4px 0");txt(2863,1725,"$3.2M","font-size:24px;color:#fff");
// date tag
box(1445,1838,246,48,"background:#282a31;border-radius:0 0 6px 6px");
txt(1463,1867,"15 Jun '26","font-size:24px;color:#f2f3f5");txt(1602,1867,"18:00","font-size:24px;color:#f2f3f5");
// watermark
box(2963,1840,46,46,"border:2px solid #1e2026;border-radius:8px");
icon(2986,1863,26,I.knob,"#5d6068");
add(`<svg class="a" style="left:2834px;top:1856px" width="28" height="28" viewBox="0 0 28 28" fill="#c4c6ca"><path d="M14 1l5.500 5.500-2.500 2.500-3-3-3 3-2.500-2.500zM5 10l3 4-3 4-4-4zM23 10l4 4-4 4-3-4zM14 11l3 3-3 3-3-3zM8.500 19l3 3 2.500-3 3 3 2.500-3 1 1-6.500 7-6.500-7z"/></svg>`);
txt(2868,1870,"@ Mr_Zzzzzz","font-size:21.5px;color:#c4c6ca");
</script></body></html>
